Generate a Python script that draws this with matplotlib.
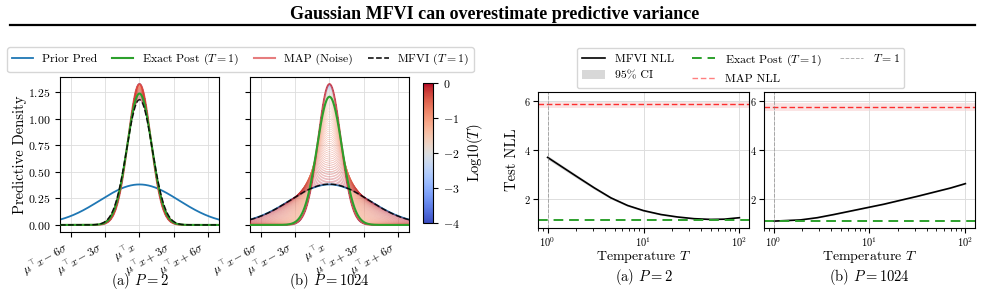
import numpy as np
import matplotlib
matplotlib.use("Agg")
import matplotlib.pyplot as plt
from matplotlib.lines import Line2D
from matplotlib.patches import Patch

plt.rcParams['font.family'] = 'serif'
plt.rcParams['font.serif'] = ['cmr10', 'DejaVu Serif']
plt.rcParams['mathtext.fontset'] = 'cm'
plt.rcParams['axes.formatter.use_mathtext'] = True
plt.rcParams['axes.unicode_minus'] = True

# ---- predictive density panels ----
sigma_noise = 0.3            # MAP predictive std (peak ~1.33)
prior_var = 1.0              # prior predictive std ~1.04 (peak ~0.38)
panels = ["(a) $P=2$", "(b) $P=1024$"]
exact_post_var = [0.0135, 0.0187]    # exact posterior peaks ~1.24 / ~1.21
mfvi_var_slope = [0.024, 0.983]      # MFVI at T=1 peaks ~1.18 / ~0.385
log10_T_min, log10_T_max = -4, 0
x_ticks_sigma = [-6, -3, 0, 3, 6]
x_tick_labels = [r"$\mu^{\!\top}\!x - 6\sigma$", r"$\mu^{\!\top}\!x - 3\sigma$", r"$\mu^{\!\top}\!x$",
                 r"$\mu^{\!\top}\!x + 3\sigma$", r"$\mu^{\!\top}\!x + 6\sigma$"]

# ---- test NLL panels ----
temps_a = [1, 2.05, 3.06, 4.57, 6.81, 10, 15.2, 22.6, 33.7, 50.3, 69.2, 100]
nll_a = [3.70, 2.90, 2.46, 2.05, 1.74, 1.53, 1.37, 1.27, 1.20, 1.17, 1.18, 1.24]
ci_a = [0.08, 0.07, 0.06, 0.05, 0.04, 0.035, 0.03, 0.025, 0.02, 0.02, 0.02, 0.02]
temps_b = [1, 1.91, 2.85, 4.25, 6.34, 10, 14.1, 21.0, 31.4, 46.8, 69.8, 100]
nll_b = [1.10, 1.15, 1.24, 1.37, 1.51, 1.67, 1.79, 1.95, 2.11, 2.28, 2.45, 2.63]
ci_b = [0.02] * 12
nll_exact = [1.13, 1.10]
nll_map = [5.87, 5.76]
nll_map_band = [(5.71, 6.02), (5.60, 5.94)]


def gauss(x, var):
    return np.exp(-x ** 2 / (2 * var)) / np.sqrt(2 * np.pi * var)


fig = plt.figure(figsize=(9.85, 2.92), dpi=100)

fig.text(0.502, 0.952, "Gaussian MFVI can overestimate predictive variance",
         ha='center', va='center', fontsize=13, fontweight='bold',
         family='Liberation Serif')
fig.add_artist(Line2D([0.01, 0.99], [0.914, 0.914], transform=fig.transFigure,
                      color='black', lw=1.6))

xs = np.linspace(-7 * sigma_noise, 7 * sigma_noise, 400)
temp_grid = np.logspace(log10_T_min, log10_T_max, 120)
cmap = plt.get_cmap('coolwarm')
norm = plt.Normalize(log10_T_min, log10_T_max)

left_pos = [[0.0609, 0.2055, 0.1614, 0.5308], [0.2538, 0.2055, 0.1614, 0.5308]]
left_axes = []
for i in range(2):
    ax = fig.add_axes(left_pos[i], sharey=left_axes[0] if i else None)
    ax.plot(xs, gauss(xs, sigma_noise ** 2 + prior_var), color='tab:blue', lw=1.3, zorder=2)
    for t in temp_grid:
        ax.plot(xs, gauss(xs, sigma_noise ** 2 + mfvi_var_slope[i] * t),
                color=cmap(norm(np.log10(t))), lw=0.35, alpha=0.6, zorder=3)
    ax.plot(xs, gauss(xs, sigma_noise ** 2), color='tab:red', lw=1.4, alpha=0.75, zorder=4)
    ax.plot(xs, gauss(xs, sigma_noise ** 2 + exact_post_var[i]), color='tab:green', lw=1.5, zorder=5)
    ax.plot(xs, gauss(xs, sigma_noise ** 2 + mfvi_var_slope[i]), color='black', ls='--',
            lw=1.1, alpha=0.85, zorder=6)
    ax.set_xlim(xs[0], xs[-1])
    ax.set_xticks([k * sigma_noise for k in x_ticks_sigma])
    ax.set_xticklabels(x_tick_labels, rotation=30, ha='right', fontsize=8.5)
    ax.tick_params(axis='x', pad=2)
    ax.tick_params(axis='y', labelsize=8.5)
    ax.grid(True, color='#dddddd', lw=0.6)
    if i:
        ax.tick_params(labelleft=False)
    else:
        ax.set_ylabel("Predictive Density", fontsize=10.5)
        ax.yaxis.set_label_coords(-0.21, 0.5)
    fig.text(left_pos[i][0] + left_pos[i][2] / 2, 0.036, panels[i], ha='center',
             va='center', fontsize=10.5)
    left_axes.append(ax)

cax = fig.add_axes([0.4294, 0.2363, 0.0102, 0.4795])
sm = plt.cm.ScalarMappable(norm=norm, cmap=cmap)
cb = fig.colorbar(sm, cax=cax, ticks=[0, -1, -2, -3, -4])
cb.ax.tick_params(labelsize=8.5)
cb.set_label("Log10($T$)", fontsize=10.5)

left_handles = [Line2D([], [], color='tab:blue', lw=1.3),
                Line2D([], [], color='tab:green', lw=1.5),
                Line2D([], [], color='tab:red', lw=1.5, alpha=0.6),
                Line2D([], [], color='black', ls='--', lw=1.1)]
fig.legend(left_handles, ["Prior Pred", "Exact Post ($T = 1$)", "MAP (Noise)", "MFVI ($T = 1$)"],
           loc='center', bbox_to_anchor=(0.2442, 0.796), ncol=4, fontsize=8.5,
           handlelength=1.8, handletextpad=0.7, columnspacing=1.3, borderpad=0.4,
           frameon=True)

right_pos = [[0.5462, 0.2192, 0.2142, 0.4658], [0.7756, 0.2192, 0.2142, 0.4658]]
right_data = [(temps_a, nll_a, ci_a), (temps_b, nll_b, ci_b)]
for i in range(2):
    ax = fig.add_axes(right_pos[i])
    temps, nll, ci = right_data[i]
    lo = np.array(nll) - np.array(ci)
    hi = np.array(nll) + np.array(ci)
    ax.fill_between(temps, lo, hi, color='grey', alpha=0.3, lw=0)
    ax.plot(temps, nll, color='black', lw=1.2)
    ax.axhspan(*nll_map_band[i], color='tab:red', alpha=0.12, lw=0)
    ax.axhline(nll_map[i], color='red', ls='--', lw=1.0, alpha=0.8, dashes=(4, 2))
    ax.axhline(nll_exact[i], color='tab:green', ls='--', lw=1.4, dashes=(5, 3))
    ax.axvline(1, color='grey', ls='--', lw=0.7, alpha=0.6)
    ax.set_xscale('log')
    ax.set_ylim(0.82, 6.37)
    ax.set_yticks([2, 4, 6])
    ax.tick_params(labelsize=7.5, pad=1.5)
    ax.grid(True, color='#dddddd', lw=0.7)
    if i == 0:
        ax.set_ylabel("Test NLL", fontsize=10.5)
        ax.yaxis.set_label_coords(-0.09, 0.5)
    cx = right_pos[i][0] + right_pos[i][2] / 2
    fig.text(cx, 0.121, "Temperature $T$", ha='center', va='center', fontsize=10)
    fig.text(cx, 0.052, panels[i], ha='center', va='center', fontsize=10.5)

right_handles = [Line2D([], [], color='black', lw=1.2),
                 Patch(color='grey', alpha=0.3, lw=0),
                 Line2D([], [], color='tab:green', ls='--', lw=1.4, dashes=(5, 3)),
                 Line2D([], [], color='red', ls='--', lw=1.0, alpha=0.5, dashes=(4, 2)),
                 Line2D([], [], color='grey', ls='--', lw=0.7, alpha=0.6)]
fig.legend(right_handles, ["MFVI NLL", "95% CI", "Exact Post ($T = 1$)", "MAP NLL", "$T = 1$"],
           loc='center', bbox_to_anchor=(0.752, 0.767), ncol=3, fontsize=8.5,
           handlelength=2.0, handletextpad=0.8, columnspacing=1.5, borderpad=0.4,
           frameon=True)

fig.savefig("out.png", dpi=100)
